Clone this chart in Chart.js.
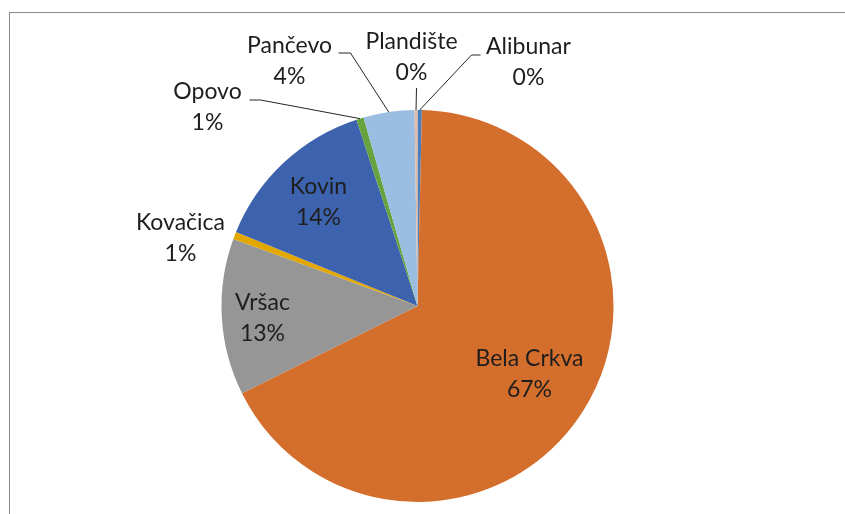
<!DOCTYPE html>
<html>
<head>
<meta charset="utf-8">
<title>Pie</title>
<script src="https://cdn.jsdelivr.net/npm/chart.js@4"></script>
<style>
    body{ margin:0; background:#fff; }
    .wrap{ position:relative; width:845px; height:514px; }
    .frame{
        position:absolute; left:9px; top:12px; width:900px; height:600px;
        border-left:1px solid #8a8a8a; border-top:1px solid #8a8a8a;
    }
</style>
</head>
<body>
<div class="wrap">
    <div class="frame"></div>
    <canvas id="myChart"></canvas>
</div>
<script>

    // data (share of total, %)
    const municipalities = ['Alibunar', 'Bela Crkva', 'Vršac', 'Kovačica', 'Kovin', 'Opovo', 'Pančevo', 'Plandište']
    const shares = [0.36, 67.3, 12.9, 0.6, 13.8, 0.6, 4.2, 0.24]
    const percentLabels = ['0%', '67%', '13%', '1%', '14%', '1%', '4%', '0%']

    const colors = ['#4A7EBB', '#D46E2C', '#969696', '#E3A800', '#3E63AE', '#66A33E', '#9BBDE2', '#E2BBA6']

    // label block centre, offset from pie centre; leader = [start, knee] offsets (line then runs to the arc)
    const labelLayout = [
        {dx: 111, dy: -244, leader: [[63, -251], [54, -251]]},
        {dx: 112, dy: 68},
        {dx: -155, dy: 12},
        {dx: -237, dy: -68},
        {dx: -99, dy: -104},
        {dx: -210, dy: -199, leader: [[-168, -206], [-157, -206]]},
        {dx: -128, dy: -245, leader: [[-79, -253], [-67, -253]]},
        {dx: -6, dy: -249, leader: [[-1, -218]]}
    ]

    const labelPlugin = {
        id: 'pieLabels',
        afterDraw(chart){
            const ctx = chart.ctx
            const meta = chart.getDatasetMeta(0)
            ctx.save()
            ctx.font = '23px Lato'
            ctx.fillStyle = '#1e1e1e'
            ctx.textAlign = 'center'
            ctx.textBaseline = 'middle'
            meta.data.forEach((arc, i) => {
                const cx = arc.x, cy = arc.y
                const lay = labelLayout[i]
                if(lay.leader){
                    const mid = (arc.startAngle + arc.endAngle) / 2
                    const ex = cx + Math.cos(mid) * arc.outerRadius
                    const ey = cy + Math.sin(mid) * arc.outerRadius
                    ctx.beginPath()
                    ctx.strokeStyle = '#262626'
                    ctx.lineWidth = 1
                    ctx.moveTo(cx + lay.leader[0][0], cy + lay.leader[0][1])
                    for(let k=1; k<lay.leader.length; k++){
                        ctx.lineTo(cx + lay.leader[k][0], cy + lay.leader[k][1])
                    }
                    ctx.lineTo(ex, ey)
                    ctx.stroke()
                }
                const lx = cx + lay.dx, ly = cy + lay.dy
                ctx.fillText(municipalities[i], lx, ly - 15)
                ctx.fillText(percentLabels[i], lx, ly + 16)
            })
            ctx.restore()
        }
    }

    const ctx = document.getElementById('myChart')

    const chart = new Chart(ctx, {
        type: 'pie',
        data: {
            labels: municipalities,
            datasets: [{
                data: shares,
                backgroundColor: colors,
                borderWidth: 0
            }]
        },
        options: {
            responsive: true,
            maintainAspectRatio: false,
            animation: false,
            layout: {
                padding: {top: 110, bottom: 12, left: 221, right: 231}
            },
            plugins: {
                legend: {display: false},
                tooltip: {enabled: false}
            }
        },
        plugins: [labelPlugin]
    })

</script>
</body>
</html>
